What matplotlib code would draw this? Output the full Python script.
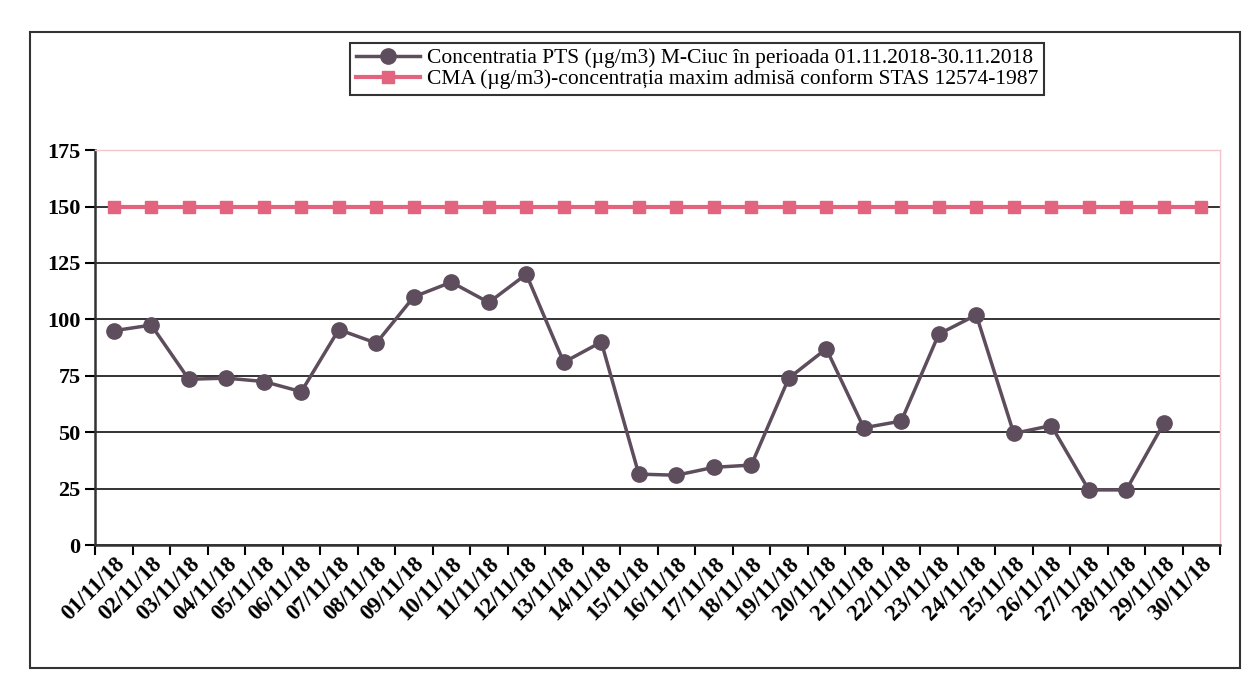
import matplotlib.pyplot as plt
from matplotlib.patches import Rectangle
import numpy as np

zile = ["%02d/11/18" % z for z in range(1, 31)]
pts = [95, 97.5, 73.5, 74, 72.5, 68, 95.5, 89.5, 110, 116.5,
       107.5, 120, 81, 90, 31.5, 31, 34.5, 35.5, 74, 87,
       52, 55, 93.5, 102, 49.5, 53, 24.5, 24.5, 54, np.nan]
cma = [150] * 30

plt.rcParams['font.family'] = ['Liberation Serif', 'DejaVu Serif']

fig = plt.figure(figsize=(12.57, 6.79), dpi=100)
ax = fig.add_axes([0.0756, 0.197, 0.895, 0.582])

x = np.arange(len(zile))
ax.plot(x, pts, color="#5e4d5c", lw=2.5, marker="o", ms=11,
        label="Concentratia PTS (µg/m3) M-Ciuc în perioada 01.11.2018-30.11.2018")
ax.plot(x, cma, color="#e3647e", lw=3, marker="s", ms=8,
        label="CMA (µg/m3)-concentrația maxim admisă conform STAS 12574-1987")

ax.set_ylim(0, 175)
ax.set_yticks(range(0, 176, 25))
ax.set_xlim(-0.5, len(zile) - 0.5)
ax.set_xticks(np.arange(-0.5, len(zile), 1), minor=True)
ax.set_xticks(x)
ax.set_xticklabels(zile, rotation=45, ha="right", rotation_mode="anchor",
                   fontsize=16.5, fontweight="bold")
ax.tick_params(axis="x", which="major", length=0, pad=6)
ax.tick_params(axis="x", which="minor", length=7, width=1.5, direction="out")
ax.tick_params(axis="y", length=7, width=1.5, labelsize=16)
for t in ax.get_yticklabels():
    t.set_fontweight("bold")

ax.grid(axis="y", color="#333333", lw=1.4)
ax.set_axisbelow(True)
for s in ["top", "right"]:
    ax.spines[s].set_color("#f2c4cc")
    ax.spines[s].set_linewidth(1)
for s in ["left", "bottom"]:
    ax.spines[s].set_color("#333333")
    ax.spines[s].set_linewidth(1.8)

ax.legend(loc="lower center", bbox_to_anchor=(0.535, 1.14), fontsize=15.5,
          frameon=True, fancybox=False, edgecolor="black", borderpad=0.25,
          handlelength=3, handletextpad=0.3, labelspacing=0.05,
          borderaxespad=0)
ax.get_legend().get_frame().set_linewidth(1.5)

fig.patches.append(Rectangle((30 / 1257, 1 - 668 / 679), 1210 / 1257, 636 / 679,
                             transform=fig.transFigure, fill=False,
                             edgecolor="#333333", lw=1.5))

plt.savefig("out.png")
